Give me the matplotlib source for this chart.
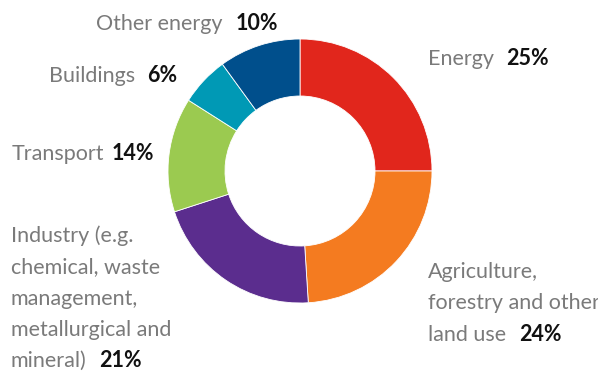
import matplotlib.pyplot as plt

# share of emissions by sector, clockwise from 12 o'clock
sectors = ['Energy', 'Agriculture', 'Industry', 'Transport', 'Buildings', 'Other energy']
shares = [25, 24, 21, 14, 6, 10]
colors = ['#e1261c', '#f47b20', '#5b2d8e', '#9bca50', '#0099b5', '#004f8c']

# label text (one entry per line), in the same order as the slices
label_lines = [
    ['Energy'],
    ['Agriculture,', 'forestry and other', 'land use'],
    ['Industry (e.g.', 'chemical, waste', 'management,', 'metallurgical and', 'mineral)'],
    ['Transport'],
    ['Buildings'],
    ['Other energy'],
]
pct_labels = ['%d%%' % s for s in shares]

W, H = 598, 374
# label anchor: left x, baseline of first line (pixels from top), gap before pct
label_pos = [(428, 65, 12), (428, 278, 13), (11, 242, 12),
             (12, 160, 7), (49, 82, 12), (96, 30, 13)]
line_step = 31.3

plt.rcParams['font.family'] = ['Lato', 'DejaVu Sans']

fig = plt.figure(figsize=(W / 100, H / 100), dpi=100)
ax = fig.add_axes([0, 0, 1, 1])

cx, cy, r_out, r_in = 300, 171, 132, 75
ax.pie(shares, colors=colors, startangle=90, counterclock=False,
       radius=r_out, center=(cx, H - cy),
       wedgeprops=dict(width=r_out - r_in, linewidth=0.6, edgecolor='white'))
ax.set_xlim(0, W)
ax.set_ylim(0, H)
ax.set_aspect('equal')
ax.axis('off')

for lines, pct, (x, y0, gap) in zip(label_lines, pct_labels, label_pos):
    t = None
    for i, line in enumerate(lines):
        t = ax.text(x, H - (y0 + i * line_step), line, fontsize=15.5,
                    color='#7a7a7a', ha='left', va='baseline')
    ax.annotate(pct, xy=(1, 0), xycoords=t, xytext=(gap * 0.72, 0),
                textcoords='offset points', fontsize=15.5, fontweight='bold',
                color='#111111', ha='left', va='bottom')

fig.savefig('out.png', dpi=100)
